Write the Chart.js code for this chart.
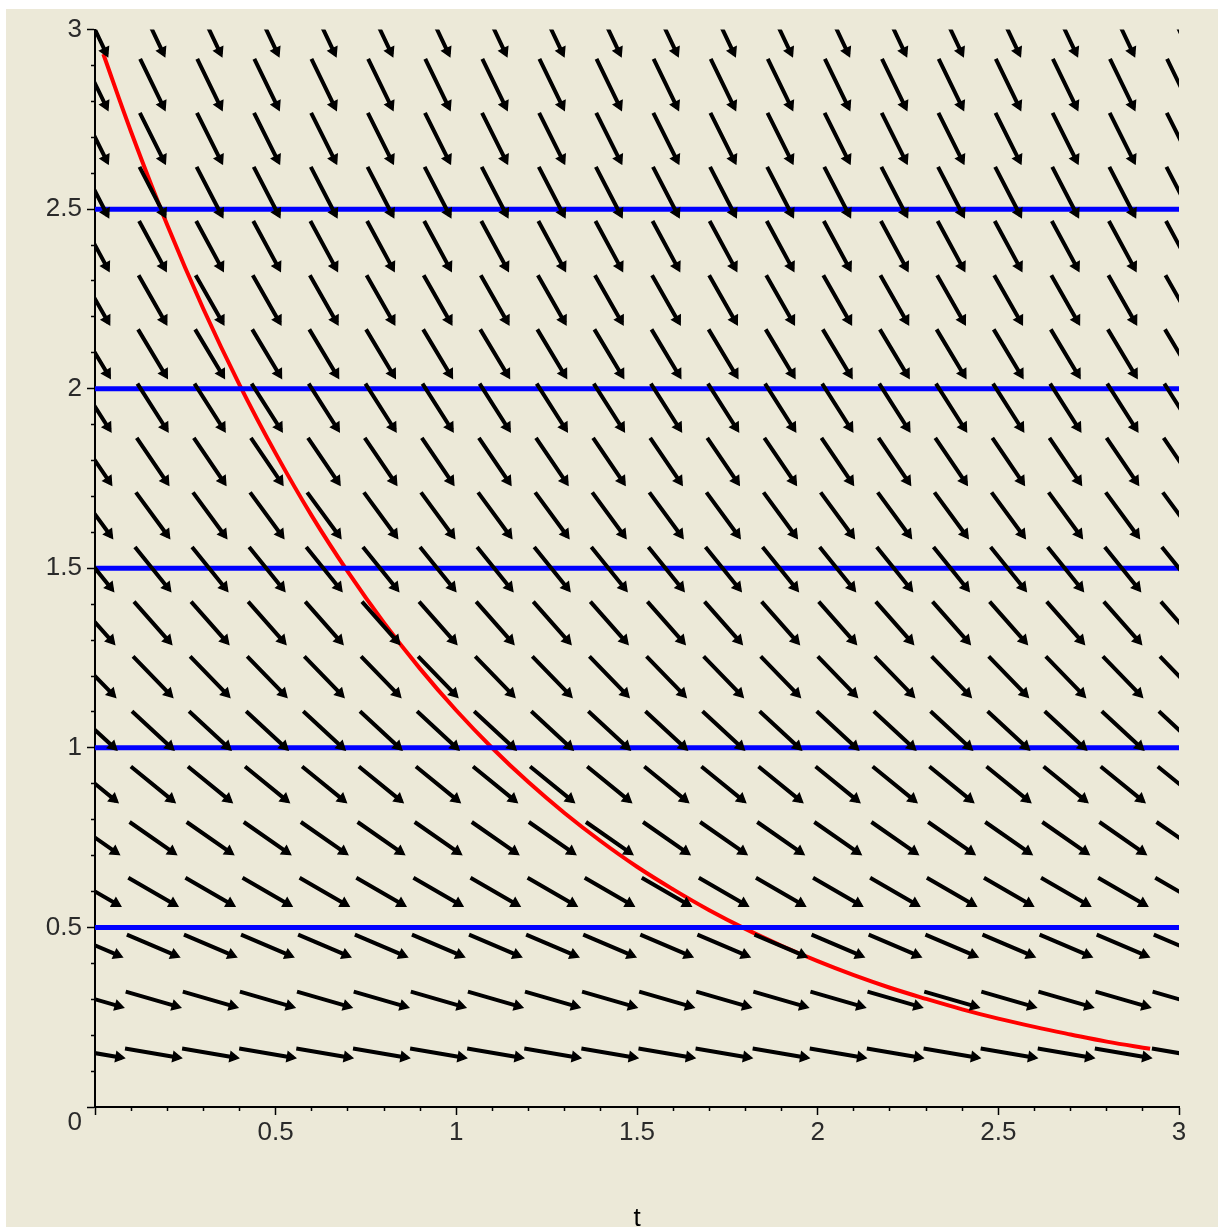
<!DOCTYPE html>
<html>
<head>
<meta charset="utf-8">
<script src="https://cdn.jsdelivr.net/npm/chart.js@4.4.0/dist/chart.umd.min.js"></script>
<style>
  html, body { margin: 0; padding: 0; background: #fff; overflow: hidden; }
  #box { position: absolute; left: 6px; top: 9px; width: 1212px; height: 1240px; background: #ECE9D8; }
</style>
</head>
<body>
<div id="box"><canvas id="campo"></canvas></div>
<script>
// rejilla del campo de direcciones (columnas en t, filas en y)
const tCols = [0, 0.158, 0.316, 0.474, 0.632, 0.789, 0.947, 1.105, 1.263, 1.421,
               1.579, 1.737, 1.895, 2.053, 2.211, 2.368, 2.526, 2.684, 2.842, 3];
const yRows = [0.15, 0.3, 0.45, 0.6, 0.75, 0.9, 1.05, 1.2, 1.35, 1.5,
               1.65, 1.8, 1.95, 2.1, 2.25, 2.4, 2.55, 2.7, 2.85, 3.0];
// pendiente (hacia abajo) de las flechas de cada fila
const rowSlopes = [0.17, 0.29, 0.43, 0.58, 0.70, 0.82, 0.93, 1.04, 1.14, 1.25,
                   1.37, 1.48, 1.58, 1.68, 1.77, 1.86, 1.94, 2.01, 2.07, 2.12];
const arrowLen = 0.152;

// rectas horizontales azules
const blueLevels = [0.5, 1, 1.5, 2, 2.5];

// curva solucion (roja)
const curveT = [0.023, 0.1, 0.2, 0.3, 0.4, 0.5, 0.6, 0.7, 0.8, 0.9, 1.0, 1.1, 1.2, 1.3, 1.4,
                1.5, 1.6, 1.7, 1.8, 1.9, 2.0, 2.1, 2.2, 2.3, 2.4, 2.5, 2.6, 2.7, 2.8, 2.92];
const curveY = [2.932, 2.715, 2.456, 2.222, 2.011, 1.820, 1.646, 1.490, 1.348, 1.220, 1.104, 0.999, 0.904, 0.818, 0.740,
                0.669, 0.606, 0.548, 0.496, 0.449, 0.406, 0.367, 0.332, 0.301, 0.272, 0.246, 0.223, 0.202, 0.182, 0.162];

const fuente = { family: '"Liberation Sans", Arial, sans-serif', size: 26 };

const flechas = [];
const puntas = [];
yRows.forEach((y, j) => {
    const m = rowSlopes[j];
    const n = Math.sqrt(1 + m * m);
    const dx = arrowLen / 2 / n;
    const dy = -m * arrowLen / 2 / n;
    const rot = 90 + Math.atan(m) * 180 / Math.PI;
    tCols.forEach(t => {
        flechas.push({ x: t - dx, y: y - dy }, { x: t + dx, y: y + dy }, { x: t, y: null });
        puntas.push({ x: t + dx * 0.88, y: y + dy * 0.88, rot: rot });
    });
});

const azules = [];
blueLevels.forEach(v => {
    azules.push({ x: 0, y: v }, { x: 3, y: v }, { x: 1.5, y: null });
});

const roja = curveT.map((t, i) => ({ x: t, y: curveY[i] }));

const esMayor = v => Math.abs(v * 2 - Math.round(v * 2)) < 1e-6;
const texto = v => String(Math.round(v * 10) / 10);

new Chart(document.getElementById('campo'), {
    type: 'scatter',
    data: {
        datasets: [
            {
                data: flechas, showLine: true, spanGaps: false, pointRadius: 0,
                borderColor: '#000', borderWidth: 4, clip: 0, order: 0
            },
            {
                data: puntas, showLine: false, pointStyle: 'triangle', pointRadius: 5.5,
                pointRotation: c => (c.raw ? c.raw.rot : 0),
                backgroundColor: '#000', borderColor: '#000', borderWidth: 1.5, clip: 0, order: 0
            },
            {
                data: azules, showLine: true, spanGaps: false, pointRadius: 0,
                borderColor: '#0000ff', borderWidth: 5, clip: 0, order: 1
            },
            {
                data: roja, showLine: true, pointRadius: 0, tension: 0.4,
                borderColor: '#ff0000', borderWidth: 4, clip: 0, order: 2
            }
        ]
    },
    options: {
        responsive: true,
        maintainAspectRatio: false,
        animation: false,
        layout: { padding: { left: 0, top: 18, right: 39, bottom: 0 } },
        plugins: { legend: { display: false }, tooltip: { enabled: false } },
        scales: {
            x: {
                type: 'linear', min: 0, max: 3,
                afterFit: s => { s.height = 142; },
                border: { display: true, color: '#000', width: 2 },
                grid: {
                    drawOnChartArea: false, drawTicks: true, tickLength: 8,
                    tickColor: '#000', tickWidth: 1.5,
                    tickBorderDash: c => (c.tick && esMayor(c.tick.value) ? [] : [3, 100])
                },
                ticks: {
                    count: 31, autoSkip: false, maxRotation: 0, padding: 2,
                    color: '#2a2a2a', font: fuente,
                    callback: v => (esMayor(v) && v !== 0 ? texto(v) : '')
                },
                title: { display: true, text: 't', color: '#000', font: fuente, padding: { top: 0, bottom: 15 } }
            },
            y: {
                type: 'linear', min: 0, max: 3,
                afterFit: s => { s.width = 89; },
                border: { display: true, color: '#000', width: 2 },
                grid: {
                    drawOnChartArea: false, drawTicks: true, tickLength: 8,
                    tickColor: '#000', tickWidth: 1.5,
                    tickBorderDash: c => (c.tick && esMayor(c.tick.value) ? [] : [0, 4, 3, 100])
                },
                ticks: {
                    count: 31, autoSkip: false, padding: 5,
                    color: '#2a2a2a', font: fuente,
                    callback: v => (v === 0 ? ['', '0'] : (esMayor(v) ? texto(v) : ''))
                }
            }
        }
    }
});
</script>
</body>
</html>
